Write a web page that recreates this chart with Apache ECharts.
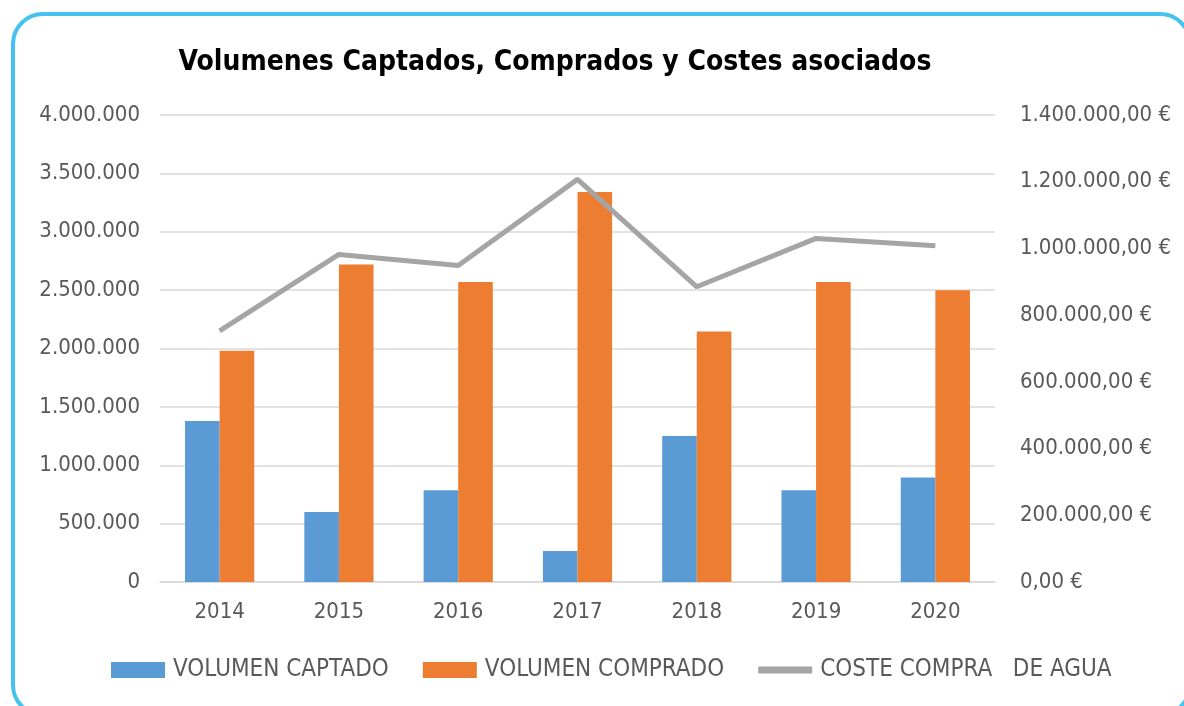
<!DOCTYPE html>
<html>
<head>
<meta charset="utf-8">
<script src="https://cdn.jsdelivr.net/npm/echarts@6/dist/echarts.min.js"></script>
<style>
  html, body { margin: 0; padding: 0; background: #fff; overflow: hidden; }
  #frame {
    position: absolute; left: 11px; top: 12px; width: 1181px; height: 705px;
    border: 4px solid #45c2f0; border-radius: 32px; box-sizing: border-box;
  }
  #chart { position: absolute; left: 0; top: 0; width: 1184px; height: 706px; }
</style>
</head>
<body>
<div id="frame"></div>
<div id="chart"></div>
<script>
// datos del grafico
const years = ['2014', '2015', '2016', '2017', '2018', '2019', '2020']
const volumenCaptado = [1380000, 600000, 785000, 265000, 1250000, 785000, 895000]
const volumenComprado = [1980000, 2720000, 2570000, 3340000, 2145000, 2570000, 2500000]
const costeCompra = [753000, 982000, 949000, 1207000, 885000, 1030000, 1008000]

const FONT = 'DejaVu Sans Condensed'
const GRIS = '#595959'

// 4000000 -> 4.000.000
function fmtMiles(v) {
  return String(Math.round(v)).replace(/\B(?=(\d{3})+(?!\d))/g, '.')
}
function fmtEuro(v) {
  return fmtMiles(v) + ',00 €'
}

const chart = echarts.init(document.getElementById('chart'))
const option = {
  animation: false,
  title: {
    text: 'Volumenes Captados, Comprados y Costes asociados',
    left: 550,
    textAlign: 'center',
    top: 44,
    textStyle: { fontFamily: FONT, fontWeight: 'bold', fontSize: 28, color: '#000' }
  },
  legend: {
    bottom: 19,
    left: 106,
    itemWidth: 54,
    itemHeight: 16,
    itemGap: 34,
    textStyle: { fontFamily: FONT, fontSize: 24, color: GRIS, padding: [0, 0, 0, 3] },
    data: [
      { name: 'VOLUMEN CAPTADO', icon: 'rect' },
      { name: 'VOLUMEN COMPRADO', icon: 'rect' },
      // linea gruesa gris, caja 54x16 para que no se estire
      { name: 'COSTE COMPRA   DE AGUA', icon: 'path://M0,0 M0,16 M0,4.5 L54,4.5 L54,11.5 L0,11.5 Z' }
    ]
  },
  grid: { left: 160, right: 189, top: 115, bottom: 124 },
  xAxis: {
    type: 'category',
    data: years,
    axisTick: { show: false },
    axisLine: { lineStyle: { color: '#d9d9d9', width: 1.5 } },
    axisLabel: { fontFamily: FONT, fontSize: 22, color: GRIS, margin: 19 }
  },
  yAxis: [
    {
      type: 'value',
      min: 0, max: 4000000, interval: 500000,
      axisLabel: { fontFamily: FONT, fontSize: 22, color: GRIS, margin: 20, formatter: fmtMiles },
      splitLine: { lineStyle: { color: '#d9d9d9', width: 1.5 } }
    },
    {
      type: 'value',
      min: 0, max: 1400000, interval: 200000,
      axisLabel: { fontFamily: FONT, fontSize: 22, color: GRIS, margin: 25, formatter: fmtEuro },
      splitLine: { show: false }
    }
  ],
  series: [
    {
      name: 'VOLUMEN CAPTADO',
      type: 'bar',
      data: volumenCaptado,
      barGap: '0%',
      barCategoryGap: '42%',
      itemStyle: { color: '#5b9bd5' }
    },
    {
      name: 'VOLUMEN COMPRADO',
      type: 'bar',
      data: volumenComprado,
      itemStyle: { color: '#ed7d31' }
    },
    {
      name: 'COSTE COMPRA   DE AGUA',
      type: 'line',
      yAxisIndex: 1,
      data: costeCompra,
      symbol: 'none',
      lineStyle: { color: '#a5a5a5', width: 5 },
      itemStyle: { color: '#a5a5a5' }
    }
  ]
}
chart.setOption(option)
</script>
</body>
</html>
